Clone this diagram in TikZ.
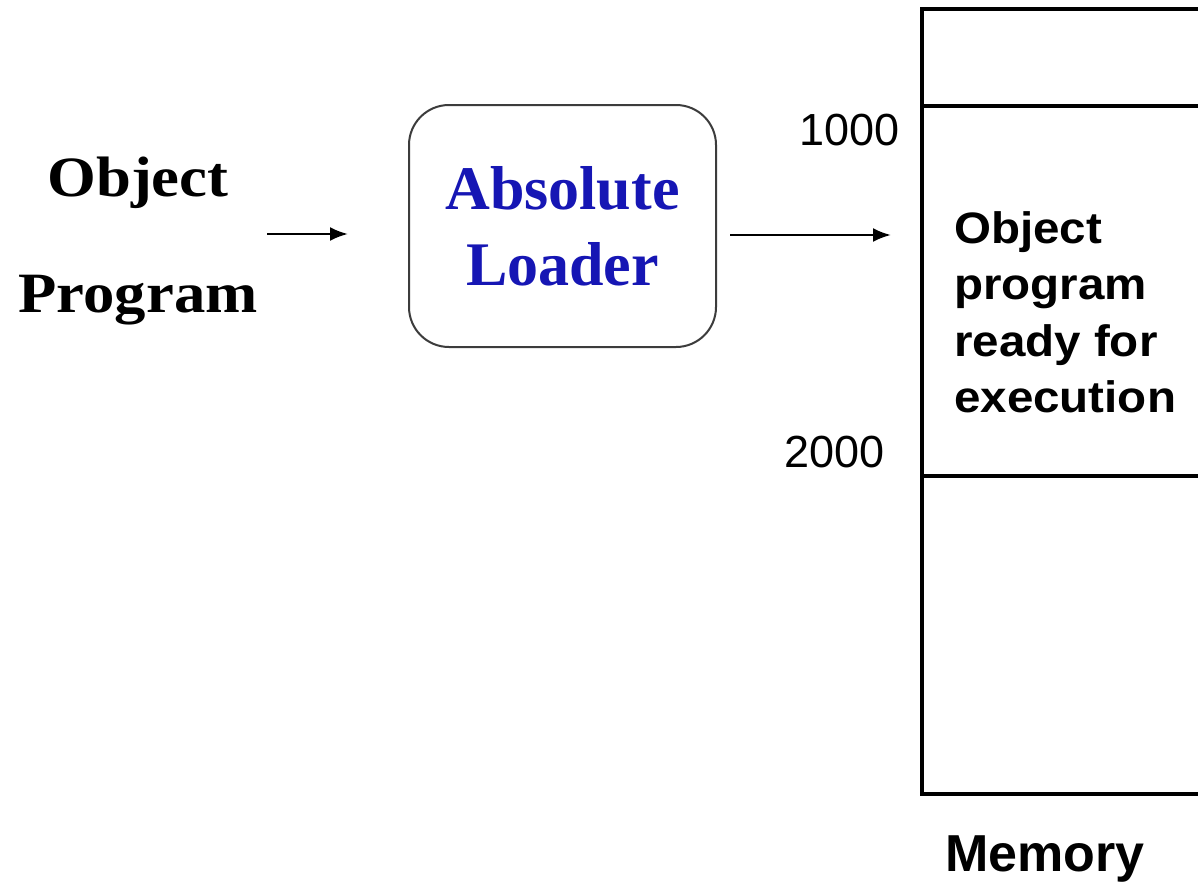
\documentclass[tikz,border=0pt]{standalone}
\usepackage{fontspec}
\setmainfont{Liberation Serif}
\setsansfont{Liberation Sans}
\newfontfamily\wideserif[FakeStretch=1.1]{Liberation Serif}
\newfontfamily\widesans[FakeStretch=1.08]{Liberation Sans}
\usetikzlibrary{arrows.meta}
\definecolor{loaderblue}{RGB}{22,22,180}
\definecolor{boxgray}{RGB}{60,60,60}
\tikzset{
  flow/.style={line width=2.5pt, -{Latex[length=18pt,width=14pt]}},
  serifhead/.style={font=\wideserif\bfseries\fontsize{57}{116}\selectfont, inner sep=0pt},
  loaderbox/.style={draw=boxgray, line width=2pt, rounded corners=40pt,
    minimum width=307pt, minimum height=242pt, inner sep=0pt, align=center,
    text=loaderblue, font=\fontsize{62}{76}\selectfont\bfseries},
  memline/.style={line width=4pt},
  address/.style={font=\sffamily\fontsize{45}{54}\selectfont, inner sep=0pt},
  memtext/.style={font=\widesans\bfseries\fontsize{44}{56.5}\selectfont,
    inner sep=0pt, align=left},
  memlabel/.style={font=\sffamily\bfseries\fontsize{52}{60}\selectfont, inner sep=0pt}
}
\begin{document}
\begin{tikzpicture}[x=1pt, y=-1pt]
  \useasboundingbox (0,0) rectangle (1198,881);
  \clip (0,0) rectangle (1198,881);
  \fill[white] (0,0) rectangle (1198,881);

  % input label
  \node[serifhead, anchor=base] (objline) at (138,196) {Object};
  \node[serifhead, anchor=base] (progline) at (138,312) {Program};

  % loader
  \node[loaderbox] (loader) at (562.5,226) {Absolute\\Loader};

  % memory column, open towards the right
  \draw[memline] (1240,9) -- (922,9) -- (922,794) -- (1240,794);
  \draw[memline] (922,106) -- (1240,106);
  \draw[memline] (922,476) -- (1240,476);

  \node[address, anchor=base east] (addrA) at (900,145) {1000};
  \node[address, anchor=base east] (addrB) at (885,467) {2000};

  \node[memtext, anchor=north west] (loaded) at (954,211)
    {Object\\program\\ready for\\execution};

  \node[memlabel, anchor=base west] (memname) at (945,871) {Memory};

  % connectors
  \coordinate (inA) at (267,234);
  \coordinate (inB) at (348,234);
  \coordinate (outA) at (730,235);
  \coordinate (outB) at (891,235);
  \draw[flow] (inA) -- (inB);
  \draw[flow] (outA) -- (outB);
\end{tikzpicture}
\end{document}
